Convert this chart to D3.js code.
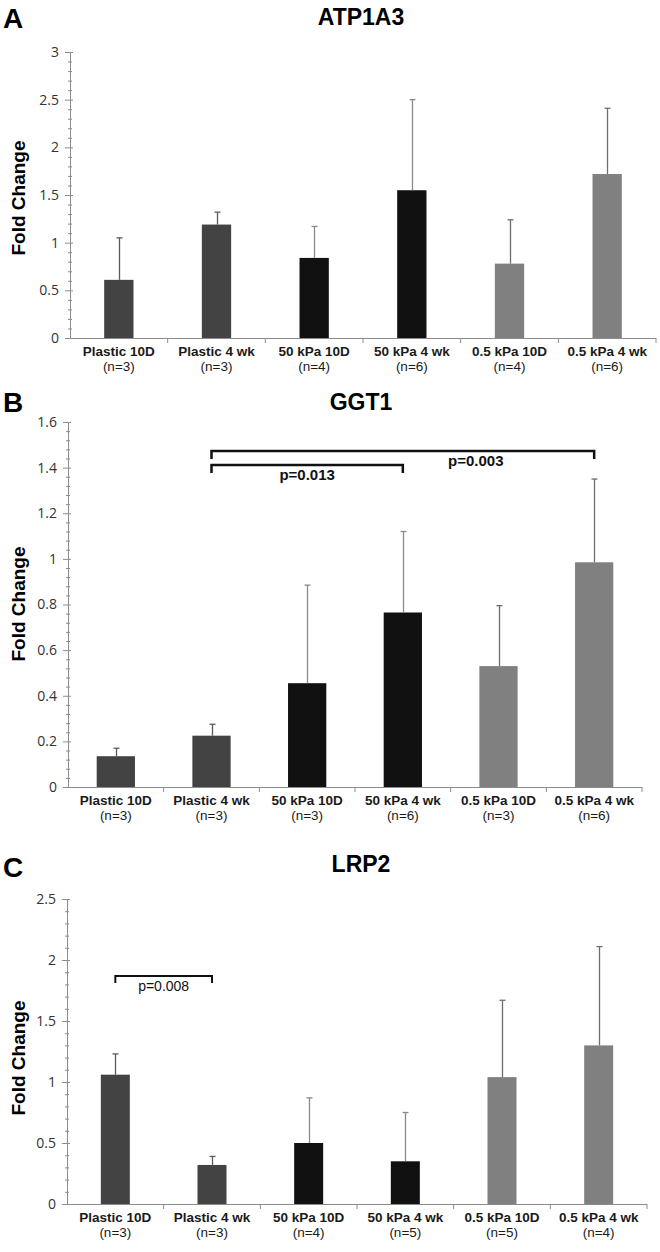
<!DOCTYPE html>
<html>
<head>
<meta charset="utf-8">
<script src="https://cdn.jsdelivr.net/npm/d3@7"></script>
<style>
  body { margin: 0; background: #fff; }
  svg { display: block; }
</style>
</head>
<body>
<svg id="chart" width="660" height="1252"></svg>
<script>
// ---------- DATA ----------
const categories = ["Plastic 10D", "Plastic 4 wk", "50 kPa 10D", "50 kPa 4 wk", "0.5 kPa 10D", "0.5 kPa 4 wk"];
const groupOfCategory = ["plastic", "plastic", "stiff", "stiff", "soft", "soft"];

// Panel A – ATP1A3
const atpMean  = [0.61, 1.19, 0.84, 1.55, 0.78, 1.72];
const atpUpper = [1.05, 1.32, 1.17, 2.50, 1.24, 2.41];
const atpN     = ["(n=3)", "(n=3)", "(n=4)", "(n=6)", "(n=4)", "(n=6)"];
const atpTicks = [0, 0.5, 1, 1.5, 2, 2.5, 3];

// Panel B – GGT1
const ggtMean  = [0.135, 0.225, 0.455, 0.765, 0.53, 0.985];
const ggtUpper = [0.17, 0.275, 0.885, 1.12, 0.795, 1.35];
const ggtN     = ["(n=3)", "(n=3)", "(n=3)", "(n=6)", "(n=3)", "(n=6)"];
const ggtTicks = [0, 0.2, 0.4, 0.6, 0.8, 1, 1.2, 1.4, 1.6];
const ggtBrackets = [
  { from: 1, to: 5, level: 1.473, label: "p=0.003" },
  { from: 1, to: 3, level: 1.412, label: "p=0.013" }
];

// Panel C – LRP2
const lrpMean  = [1.06, 0.32, 0.50, 0.35, 1.04, 1.30];
const lrpUpper = [1.23, 0.39, 0.87, 0.75, 1.67, 2.11];
const lrpN     = ["(n=3)", "(n=3)", "(n=4)", "(n=5)", "(n=5)", "(n=4)"];
const lrpTicks = [0, 0.5, 1, 1.5, 2, 2.5];
const lrpBrackets = [
  { from: 0, to: 1, level: 1.869, label: "p=0.008" }
];

// ---------- STYLE / LAYOUT ----------
const colors = { plastic: "#434343", stiff: "#111111", soft: "#808080" };
const errColors = { plastic: "#5a5a5a", stiff: "#8a8a8a", soft: "#6e6e6e" };

const panels = [
  { letter: "A", title: "ATP1A3", mean: atpMean, upper: atpUpper, n: atpN, ticks: atpTicks,
    minorStep: 0.1, brackets: [], letterY: 28, titleY: 25,
    x0: 70, x1: 656, yTop: 52, yBot: 338, barFrac: 0.30, ylabY: 198,
    brStyle: { weight: "bold", size: 15, width: 2.5, drop: 8, labelDx: [] } },
  { letter: "B", title: "GGT1", mean: ggtMean, upper: ggtUpper, n: ggtN, ticks: ggtTicks,
    minorStep: 0.04, brackets: ggtBrackets, letterY: 412, titleY: 410,
    x0: 68, x1: 642, yTop: 422, yBot: 787, barFrac: 0.40, ylabY: 604,
    brStyle: { weight: "bold", size: 15, width: 2.5, drop: 8, labelDx: [73, 0] } },
  { letter: "C", title: "LRP2", mean: lrpMean, upper: lrpUpper, n: lrpN, ticks: lrpTicks,
    minorStep: 0.1, brackets: lrpBrackets, letterY: 877, titleY: 872,
    x0: 67, x1: 647, yTop: 899, yBot: 1204, barFrac: 0.30, ylabY: 1058,
    brStyle: { weight: "normal", size: 14, width: 2, drop: 7, labelDx: [0] } }
];

const svg = d3.select("#chart");

panels.forEach((p, pi) => {
  const g = svg.append("g");
  const yMax = p.ticks[p.ticks.length - 1];
  const x = d3.scaleBand().domain(categories).range([p.x0, p.x1]).paddingInner(0).paddingOuter(0);
  const y = d3.scaleLinear().domain([0, yMax]).range([p.yBot, p.yTop]);

  // Panel letter
  g.append("text").attr("x", 3).attr("y", p.letterY)
    .attr("font-family", "Liberation Sans, Arial, sans-serif").attr("font-weight", "bold")
    .attr("font-size", 28).attr("fill", "#000").text(p.letter);

  // Title
  g.append("text").attr("x", 361).attr("y", p.titleY).attr("text-anchor", "middle")
    .attr("font-family", "Liberation Sans, Arial, sans-serif").attr("font-weight", "bold")
    .attr("font-size", 23).attr("fill", "#000").text(p.title);

  // Y label
  g.append("text").attr("transform", `translate(25,${p.ylabY}) rotate(-90)`)
    .attr("text-anchor", "middle")
    .attr("font-family", "Liberation Sans, Arial, sans-serif").attr("font-weight", "bold")
    .attr("font-size", 19).attr("fill", "#000").text("Fold Change");

  // Minor ticks
  const minorVals = d3.range(0, yMax + 1e-9, p.minorStep).filter(v => !p.ticks.some(t => Math.abs(t - v) < 1e-6));
  const minorAxis = d3.axisLeft(y).tickValues(minorVals).tickSize(-4).tickFormat("");
  const mg = g.append("g").attr("transform", `translate(${p.x0},0)`).call(minorAxis);
  mg.select(".domain").remove();
  mg.selectAll("line").attr("stroke", "#8c8c8c").attr("transform", "translate(-2,0)");

  // Major y axis
  const yAxis = d3.axisLeft(y).tickValues(p.ticks).tickSize(5).tickPadding(6)
    .tickFormat(d => String(+d.toFixed(2)));
  const ya = g.append("g").attr("transform", `translate(${p.x0},0)`).call(yAxis);
  ya.select(".domain").attr("stroke", "#8c8c8c").attr("d", `M0.5,${p.yTop}V${p.yBot}`);
  ya.selectAll(".tick line").attr("stroke", "#8c8c8c").attr("x2", -5).attr("x1", 3);
  ya.selectAll(".tick text").attr("font-family", "Open Sans, sans-serif").attr("font-size", 14)
    .attr("fill", "#333");

  // X axis
  const xa = g.append("g").attr("transform", `translate(0,${p.yBot})`)
    .call(d3.axisBottom(x).tickSize(0).tickFormat(""));
  xa.select(".domain").attr("stroke", "#8c8c8c").attr("d", `M${p.x0},0.5H${p.x1}`);
  const bounds = categories.slice(1).map(c => x(c)).concat([p.x1]);
  xa.selectAll(".btick").data(bounds).enter().append("line")
    .attr("x1", d => d).attr("x2", d => d).attr("y1", 0).attr("y2", 5)
    .attr("stroke", "#8c8c8c");

  // Category labels
  const lab = g.append("g");
  categories.forEach((c, i) => {
    const cx = x(c) + x.bandwidth() / 2;
    const t = lab.append("text").attr("x", cx).attr("y", p.yBot + 18).attr("text-anchor", "middle")
      .attr("font-family", "Liberation Sans Narrow, Arial Narrow, sans-serif")
      .attr("font-size", 13.5).attr("fill", "#1a1a1a").attr("font-weight", "bold");
    t.append("tspan").attr("x", cx).text(c);
    t.append("tspan").attr("x", cx).attr("dy", 15).attr("font-weight", "normal").text(p.n[i]);
  });

  // Bars
  const bw = x.bandwidth() * p.barFrac;
  g.selectAll(".bar").data(p.mean).enter().append("rect")
    .attr("x", (d, i) => x(categories[i]) + (x.bandwidth() - bw) / 2)
    .attr("y", d => y(d))
    .attr("width", bw)
    .attr("height", d => y(0) - y(d))
    .attr("fill", (d, i) => colors[groupOfCategory[i]]);

  // Error bars (upper only)
  const eg = g.append("g");
  p.upper.forEach((u, i) => {
    const cx = Math.round(x(categories[i]) + x.bandwidth() / 2) + 0.5;
    const col = errColors[groupOfCategory[i]];
    eg.append("line").attr("x1", cx).attr("x2", cx).attr("y1", y(p.mean[i])).attr("y2", y(u))
      .attr("stroke", col).attr("stroke-width", 1.3);
    eg.append("line").attr("x1", cx - 3).attr("x2", cx + 3).attr("y1", y(u)).attr("y2", y(u))
      .attr("stroke", col).attr("stroke-width", 1.3);
  });

  // Significance brackets
  const s = p.brStyle;
  p.brackets.forEach((b, bi) => {
    const xl = x(categories[b.from]) + x.bandwidth() / 2;
    const xr = x(categories[b.to]) + x.bandwidth() / 2;
    const yl = y(b.level);
    g.append("path")
      .attr("d", `M${xl},${yl + s.drop}V${yl}H${xr}V${yl + s.drop}`)
      .attr("fill", "none").attr("stroke", "#111").attr("stroke-width", s.width);
    g.append("text").attr("x", (xl + xr) / 2 + (s.labelDx[bi] || 0)).attr("y", yl + 15)
      .attr("text-anchor", "middle")
      .attr("font-family", "Liberation Sans, Arial, sans-serif").attr("font-weight", s.weight)
      .attr("font-size", s.size).attr("fill", "#111").text(b.label);
  });
});
</script>
</body>
</html>
